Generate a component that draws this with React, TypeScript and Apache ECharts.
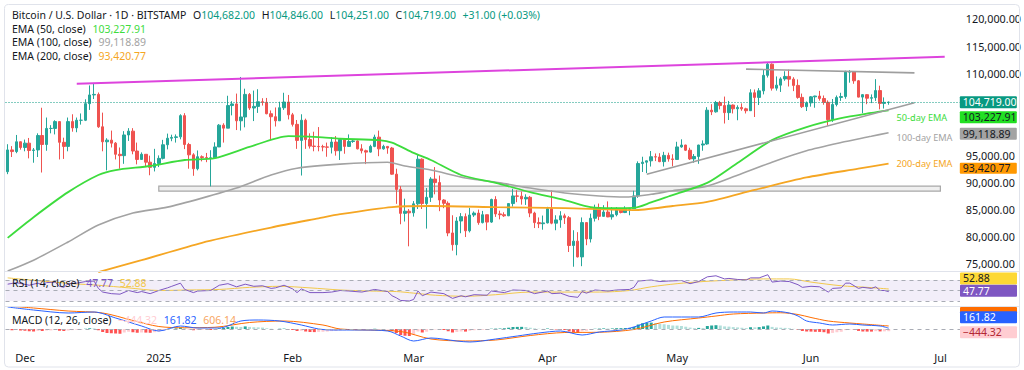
import React, { useEffect, useRef } from 'react';
import * as echarts from 'echarts';

const FONT = '"Noto Sans", "DejaVu Sans", sans-serif';
const TEXT = '#131722';
const FS = 10.5;

// ---------- categories (one per day) ----------
const firstDay = '2024-11-27';
const lastAxisDay = '2025-07-05';
function dayList(start: string, end: string): string[] {
  const out: string[] = [];
  const d = new Date(start + 'T00:00:00Z');
  const e = new Date(end + 'T00:00:00Z');
  while (d <= e) {
    out.push(d.toISOString().slice(0, 10));
    d.setUTCDate(d.getUTCDate() + 1);
  }
  return out;
}
const days = dayList(firstDay, lastAxisDay);

const tickDates = ['2024-12-01', '2025-01-01', '2025-02-01', '2025-03-01', '2025-04-01', '2025-05-01', '2025-06-01', '2025-07-01'];
const tickLabels = ['Dec', '2025', 'Feb', 'Mar', 'Apr', 'May', 'Jun', 'Jul'];
// 100,000 and 105,000 sit behind the value tags in the reference
const priceTicks = [75000, 80000, 85000, 90000, 95000, 110000, 115000, 120000];

// ---------- daily candles [open, high, low, close] ----------
const ohlcNov = [
  [91950, 97000, 91500, 95950], [95950, 96650, 94650, 95650], [95650, 98700, 95350, 97450], [97450, 97500, 96000, 96400],
];
const ohlcDec = [
  [96400, 97850, 95700, 97200], [97200, 98150, 94400, 95850], [95850, 96300, 93600, 95950], [95950, 99000, 94650, 98600],
  [98600, 103700, 91800, 96950], [96950, 101900, 95800, 99900], [99900, 100500, 99000, 99900], [99900, 101400, 98800, 101150],
  [101150, 101200, 94200, 97350], [97350, 98200, 94300, 96600], [96600, 101900, 95700, 101150], [101150, 102500, 99300, 100000],
  [100000, 101900, 99200, 101400], [101400, 102650, 100600, 101400], [101400, 105250, 101250, 104450], [104450, 107800, 103300, 106050],
  [106050, 108250, 105300, 106150], [106150, 106500, 100000, 100200], [100200, 102800, 95700, 97450], [97450, 98100, 92200, 97750],
  [97750, 99500, 96400, 97200], [97200, 97400, 94200, 95150], [95150, 96400, 92500, 94900], [94900, 99400, 93400, 98700],
  [98700, 99950, 97600, 99400], [99400, 99950, 95150, 95750], [95750, 97300, 93300, 94200], [94200, 95500, 94100, 95150],
  [95150, 95200, 93000, 93700], [93700, 94900, 91300, 92750], [92750, 96150, 92000, 93450],
];
const ohlcJan = [
  [93450, 94950, 92800, 94400], [94400, 97800, 94200, 96900], [96900, 98950, 96050, 98100], [98100, 98750, 97550, 98250],
  [98250, 98800, 97300, 98350], [98350, 102500, 97900, 102250], [102250, 102700, 96100, 96950], [96950, 97250, 92500, 95050],
  [95050, 95350, 91200, 92500], [92500, 95850, 92200, 94700], [94700, 94950, 93850, 94550], [94550, 95400, 93700, 94500],
  [94500, 95900, 89250, 94500], [94500, 97350, 94300, 96500], [96500, 100700, 96500, 100500], [100500, 100850, 97300, 99950],
  [99950, 105900, 99950, 104100], [104100, 104900, 102300, 104400], [104400, 106300, 99600, 101300], [101300, 109350, 99500, 102000],
  [102000, 107200, 100100, 106150], [106150, 106400, 103300, 103650], [103650, 106850, 101250, 103950], [103950, 107100, 102750, 104800],
  [104800, 105450, 104100, 104700], [104700, 105500, 102500, 102600], [102600, 103200, 97750, 102050], [102050, 103750, 100250, 101300],
  [101300, 104800, 101300, 103700], [103700, 106450, 103300, 104750], [104750, 106050, 101550, 102400],
];
const ohlcFeb = [
  [102400, 102750, 100250, 100650], [100650, 101450, 96150, 97700], [97700, 102500, 91250, 101400], [101400, 101700, 96150, 97850],
  [97850, 99000, 96200, 96650], [96650, 99300, 95700, 96600], [96600, 100150, 95700, 96550], [96550, 96900, 95700, 96500],
  [96500, 97300, 94700, 96450], [96450, 98300, 95300, 97400], [97400, 98500, 94900, 95800], [95800, 98100, 94100, 97850],
  [97850, 98000, 95250, 96600], [96600, 98800, 96500, 97500], [97500, 97950, 97250, 97600], [97600, 97700, 96050, 96150],
  [96150, 97000, 95300, 95800], [95800, 96000, 93350, 95550], [95550, 96900, 95450, 96600], [96600, 98750, 96450, 98300],
  [98300, 99500, 94800, 96150], [96150, 96900, 96000, 96600], [96600, 96650, 95250, 96300], [96300, 96500, 91400, 91500],
  [91500, 92500, 86050, 88700], [88700, 89300, 82300, 84300], [84300, 87000, 82800, 84700], [84700, 85100, 78250, 84400],
];
const ohlcMar = [
  [84400, 86550, 83700, 86050], [86050, 95000, 85100, 94250], [94250, 94400, 85100, 86100], [86100, 88950, 81500, 87250],
  [87250, 90950, 86400, 90600], [90600, 92800, 87800, 89950], [89950, 91250, 84700, 86750], [86750, 86900, 85250, 86150],
  [86150, 86500, 80100, 80700], [80700, 83950, 77450, 78550], [78550, 83600, 76600, 82900], [82900, 84350, 80650, 83700],
  [83700, 84300, 79950, 81100], [81100, 85300, 80800, 84000], [84000, 84650, 83650, 84350], [84350, 85000, 82200, 82600],
  [82600, 84750, 82450, 84050], [84050, 84050, 81200, 82700], [82700, 87000, 82550, 86850], [86850, 87450, 83650, 84200],
  [84200, 84800, 83200, 84050], [84050, 84500, 83650, 83850], [83850, 86100, 83800, 86100], [86100, 88800, 85550, 87500],
  [87500, 88550, 86350, 87450], [87450, 88300, 85900, 86950], [86950, 87800, 85850, 87250], [87250, 87500, 83600, 84350],
  [84350, 84600, 81600, 82600], [82600, 83550, 81600, 82400], [82400, 83900, 81300, 82550],
];
const ohlcApr = [
  [82550, 85500, 82450, 85150], [85150, 88500, 82300, 82500], [82500, 83950, 81200, 83100], [83100, 84700, 81650, 83850],
  [83850, 84250, 82350, 83500], [83500, 83800, 77200, 78400], [78400, 81200, 74500, 79200], [79200, 80850, 76200, 76300],
  [76300, 83550, 74600, 82600], [82600, 82700, 78450, 79600], [79600, 84250, 78950, 83400], [83400, 85900, 82800, 85300],
  [85300, 86100, 83050, 83750], [83750, 85800, 83700, 84550], [84550, 86500, 83600, 83650], [83650, 85450, 83150, 84050],
  [84050, 85450, 83750, 84900], [84900, 85100, 84300, 84450], [84450, 85600, 84350, 85050], [85050, 85300, 83950, 85150],
  [85150, 88450, 85150, 87500], [87500, 93850, 87150, 93450], [93450, 94700, 91900, 93700], [93700, 94000, 91700, 93950],
  [93950, 95750, 92900, 94700], [94700, 95300, 93900, 94650], [94650, 95350, 93700, 93800], [93800, 95600, 92900, 94950],
  [94950, 95450, 93800, 94300], [94300, 95150, 92950, 94200],
];
const ohlcMay = [
  [94200, 97450, 94150, 96500], [96500, 97900, 96350, 96850], [96850, 96900, 95750, 95900], [95900, 96350, 94100, 94300],
  [94300, 95200, 93600, 94750], [94750, 96900, 93400, 96850], [96850, 97700, 95800, 97050], [97050, 103800, 96900, 103250],
  [103250, 104350, 102350, 102950], [102950, 104950, 102800, 104650], [104650, 104950, 103400, 104100], [104100, 105750, 100800, 102800],
  [102800, 104950, 101450, 104200], [104200, 104300, 102650, 103500], [103500, 104150, 101400, 103750], [103750, 104500, 103150, 103500],
  [103500, 103700, 102650, 103150], [103150, 107100, 103100, 106450], [106450, 107050, 102000, 105600], [105600, 107300, 104200, 106800],
  [106800, 110750, 106150, 109650], [109650, 111950, 109250, 111700], [111700, 111850, 106850, 107300], [107300, 109450, 106850, 107850],
  [107850, 109300, 106600, 109000], [109000, 110400, 108650, 109450], [109450, 110700, 107600, 108950], [108950, 109300, 106750, 107800],
  [107800, 108900, 105350, 105600], [105600, 106300, 103650, 103900], [103900, 104850, 103100, 104600],
];
const ohlcJun = [
  [104600, 105850, 103900, 105700], [105700, 105900, 103700, 105850], [105850, 106800, 105000, 105400], [105400, 105950, 104250, 104700],
  [104700, 105050, 100400, 101500], [101500, 105300, 101100, 104300], [104300, 105950, 103950, 105600], [105600, 106450, 104950, 105750],
  [105750, 110500, 105350, 110250], [110250, 110600, 108300, 110270], [110270, 110400, 108100, 108650], [108650, 108800, 105600, 105650],
  [105650, 106200, 102700, 106100], [106100, 106200, 104350, 105450], [105450, 106150, 104550, 105550], [105550, 108950, 104950, 106850],
  [106850, 107750, 103400, 104500], [104500, 105600, 103550, 104688], [104682, 104846, 104251, 104719],
];
const ohlc = [...ohlcNov, ...ohlcDec, ...ohlcJan, ...ohlcFeb, ...ohlcMar, ...ohlcApr, ...ohlcMay, ...ohlcJun];

// ---------- moving averages (read at sample dates) ----------
const ema50Points: [string, number][] = [
  ['2024-11-27', 79800], ['2024-12-03', 83600], ['2024-12-11', 88200], ['2024-12-18', 91350], ['2024-12-22', 92250],
  ['2024-12-30', 93000], ['2025-01-07', 94100], ['2025-01-14', 94450], ['2025-01-22', 96500], ['2025-01-31', 98500],
  ['2025-02-07', 98300], ['2025-02-12', 98000], ['2025-02-21', 97750], ['2025-02-24', 97300], ['2025-03-01', 95400],
  ['2025-03-05', 94100], ['2025-03-12', 91350], ['2025-03-20', 89900], ['2025-03-28', 88200], ['2025-04-05', 86750],
  ['2025-04-11', 85450], ['2025-04-16', 85250], ['2025-04-21', 85300], ['2025-04-25', 86300], ['2025-04-29', 87400],
  ['2025-05-08', 89900], ['2025-05-15', 93550], ['2025-05-23', 97750], ['2025-05-31', 100150], ['2025-06-08', 101800],
  ['2025-06-15', 102750], ['2025-06-19', 103227.91],
];
const ema100Points: [string, number][] = [
  ['2024-11-27', 73700], ['2024-12-03', 75700], ['2024-12-11', 79050], ['2024-12-18', 82150], ['2024-12-26', 84350],
  ['2025-01-03', 85450], ['2025-01-11', 87100], ['2025-01-19', 88950], ['2025-01-27', 91350], ['2025-02-02', 92600],
  ['2025-02-12', 93350], ['2025-02-23', 93700], ['2025-02-27', 93000], ['2025-03-05', 92250], ['2025-03-13', 90800],
  ['2025-03-21', 89900], ['2025-03-28', 88950], ['2025-04-05', 88050], ['2025-04-13', 87500], ['2025-04-19', 87300],
  ['2025-04-25', 87800], ['2025-04-30', 88450], ['2025-05-08', 89300], ['2025-05-15', 91300], ['2025-05-23', 93700],
  ['2025-05-31', 95800], ['2025-06-08', 97300], ['2025-06-15', 98450], ['2025-06-19', 99118.89],
];
const ema200Points: [string, number][] = [
  ['2024-12-18', 73500], ['2024-12-28', 75700], ['2025-01-11', 78900], ['2025-01-27', 81700], ['2025-02-07', 83400],
  ['2025-02-12', 84150], ['2025-02-24', 85450], ['2025-03-05', 85650], ['2025-03-20', 85450], ['2025-04-05', 85250],
  ['2025-04-21', 84900], ['2025-04-30', 85650], ['2025-05-08', 86400], ['2025-05-19', 88600], ['2025-05-31', 90900],
  ['2025-06-12', 92500], ['2025-06-19', 93420.77],
];

// ---------- drawn lines / zone ----------
const resistanceLine: [string, number][] = [['2024-12-13', 108100], ['2025-07-02', 113050]];
const rangeTopLine: [string, number][] = [['2025-05-17', 110800], ['2025-06-25', 110100]];
const risingSupportLine: [string, number][] = [['2025-04-24', 91500], ['2025-06-25', 104600]];
const supportZone = { from: '2025-01-01', to: '2025-07-01', top: 89300, bottom: 88400 };

// ---------- RSI ----------
const rsiPoints: [string, number][] = [
  ['2024-11-27', 62], ['2024-11-29', 65], ['2024-12-02', 60], ['2024-12-04', 64], ['2024-12-05', 61], ['2024-12-06', 65],
  ['2024-12-08', 66], ['2024-12-09', 58], ['2024-12-10', 56], ['2024-12-11', 63], ['2024-12-13', 64], ['2024-12-15', 67],
  ['2024-12-17', 68], ['2024-12-18', 54], ['2024-12-19', 47], ['2024-12-21', 44], ['2024-12-23', 43], ['2024-12-25', 50],
  ['2024-12-27', 46], ['2024-12-28', 48], ['2024-12-30', 44], ['2025-01-01', 50], ['2025-01-03', 55], ['2025-01-04', 58],
  ['2025-01-06', 64], ['2025-01-07', 52], ['2025-01-09', 46], ['2025-01-10', 49], ['2025-01-13', 50], ['2025-01-15', 60],
  ['2025-01-17', 63], ['2025-01-19', 57], ['2025-01-21', 62], ['2025-01-23', 58], ['2025-01-25', 59], ['2025-01-27', 54],
  ['2025-01-28', 55], ['2025-01-30', 60], ['2025-02-01', 53], ['2025-02-02', 46], ['2025-02-03', 53], ['2025-02-05', 46],
  ['2025-02-08', 46], ['2025-02-10', 47], ['2025-02-12', 50], ['2025-02-14', 49], ['2025-02-17', 47], ['2025-02-20', 52],
  ['2025-02-23', 48], ['2025-02-24', 40], ['2025-02-25', 36], ['2025-02-26', 31], ['2025-02-28', 30], ['2025-03-01', 33],
  ['2025-03-02', 49], ['2025-03-03', 40], ['2025-03-05', 47], ['2025-03-08', 44], ['2025-03-10', 35], ['2025-03-12', 40],
  ['2025-03-13', 38], ['2025-03-15', 42], ['2025-03-18', 41], ['2025-03-19', 49], ['2025-03-22', 46], ['2025-03-24', 51],
  ['2025-03-27', 50], ['2025-03-29', 44], ['2025-04-01', 49], ['2025-04-02', 44], ['2025-04-04', 45], ['2025-04-06', 39],
  ['2025-04-08', 37], ['2025-04-09', 48], ['2025-04-10', 45], ['2025-04-12', 51], ['2025-04-15', 49], ['2025-04-17', 51],
  ['2025-04-20', 52], ['2025-04-21', 56], ['2025-04-22', 68], ['2025-04-25', 70], ['2025-04-27', 67], ['2025-04-29', 68],
  ['2025-05-02', 69], ['2025-05-04', 63], ['2025-05-06', 67], ['2025-05-08', 76], ['2025-05-10', 78], ['2025-05-12', 72],
  ['2025-05-13', 73], ['2025-05-15', 71], ['2025-05-17', 70], ['2025-05-18', 74], ['2025-05-20', 74], ['2025-05-22', 80],
  ['2025-05-23', 66], ['2025-05-25', 68], ['2025-05-27', 67], ['2025-05-29', 61], ['2025-05-30', 56], ['2025-06-01', 58],
  ['2025-06-03', 57], ['2025-06-05', 47], ['2025-06-06', 54], ['2025-06-08', 55], ['2025-06-09', 64], ['2025-06-10', 64],
  ['2025-06-12', 54], ['2025-06-13', 56], ['2025-06-15', 54], ['2025-06-16', 57], ['2025-06-17', 50], ['2025-06-18', 50],
  ['2025-06-19', 47.77],
];
const rsiMaPoints: [string, number][] = [
  ['2024-11-27', 74], ['2024-12-05', 68], ['2024-12-12', 63], ['2024-12-18', 60], ['2024-12-25', 55], ['2025-01-01', 50],
  ['2025-01-08', 51], ['2025-01-15', 52], ['2025-01-22', 56], ['2025-01-29', 58], ['2025-02-05', 55], ['2025-02-12', 51],
  ['2025-02-19', 49], ['2025-02-25', 48], ['2025-03-01', 45], ['2025-03-06', 41], ['2025-03-13', 39], ['2025-03-20', 42],
  ['2025-03-28', 47], ['2025-04-05', 47], ['2025-04-13', 47], ['2025-04-20', 50], ['2025-04-25', 57], ['2025-05-01', 63],
  ['2025-05-07', 67], ['2025-05-14', 70], ['2025-05-21', 72], ['2025-05-27', 72], ['2025-06-01', 66], ['2025-06-08', 59],
  ['2025-06-14', 56], ['2025-06-19', 52.88],
];

// ---------- MACD ----------
const macdPoints: [string, number][] = [
  ['2024-11-27', 4400], ['2024-12-03', 3800], ['2024-12-11', 3200], ['2024-12-17', 3400], ['2024-12-22', 2200],
  ['2024-12-28', 600], ['2025-01-01', -400], ['2025-01-06', 600], ['2025-01-10', 200], ['2025-01-15', 200],
  ['2025-01-20', 1600], ['2025-01-24', 1800], ['2025-01-29', 1600], ['2025-02-03', 800], ['2025-02-07', 0],
  ['2025-02-10', -200], ['2025-02-17', -200], ['2025-02-23', -400], ['2025-02-26', -1400], ['2025-03-01', -2400],
  ['2025-03-05', -1800], ['2025-03-11', -2400], ['2025-03-14', -2600], ['2025-03-20', -2000], ['2025-03-25', -1400],
  ['2025-03-30', -800], ['2025-04-04', -400], ['2025-04-09', -1200], ['2025-04-13', -600], ['2025-04-18', -200],
  ['2025-04-21', 400], ['2025-04-25', 1600], ['2025-04-28', 2400], ['2025-05-06', 2400], ['2025-05-10', 3200],
  ['2025-05-14', 3400], ['2025-05-18', 3400], ['2025-05-21', 3200], ['2025-05-23', 3600], ['2025-05-27', 3200],
  ['2025-05-29', 2600], ['2025-05-31', 1600], ['2025-06-03', 1200], ['2025-06-06', 800], ['2025-06-10', 1000],
  ['2025-06-13', 800], ['2025-06-17', 600], ['2025-06-19', 161.82],
];
const signalPoints: [string, number][] = [
  ['2024-11-27', 4600], ['2024-12-03', 4200], ['2024-12-11', 3600], ['2024-12-19', 3200], ['2024-12-26', 1700],
  ['2025-01-01', 500], ['2025-01-07', 250], ['2025-01-14', 350], ['2025-01-22', 1300], ['2025-01-30', 1600],
  ['2025-02-08', 800], ['2025-02-12', 0], ['2025-02-26', -500], ['2025-03-05', -2000], ['2025-03-13', -2400],
  ['2025-03-20', -2200], ['2025-03-28', -1300], ['2025-04-05', -700], ['2025-04-13', -650], ['2025-04-21', -100],
  ['2025-04-28', 1400], ['2025-05-06', 2200], ['2025-05-10', 2600], ['2025-05-14', 3000], ['2025-05-21', 3200],
  ['2025-05-25', 3250], ['2025-05-29', 2900], ['2025-06-01', 2300], ['2025-06-05', 1600], ['2025-06-10', 1200],
  ['2025-06-13', 1000], ['2025-06-19', 606.14],
];
// daily histogram, from 2024-11-27
const histNov = [-150, -250, -200, -300];
const histDec = [-350, -450, -500, -380, -400, -300, -280, -200, -350, -420, -300, -220, -150, -100, 50, 150, 120, -250, -600, -800,
  -850, -900, -950, -700, -550, -650, -750, -700, -720, -760, -640];
const histJan = [-500, -300, -100, 50, 120, 300, 150, -50, -250, -200, -180, -170, -200, -80, 150, 200, 400, 500, 450, 420,
  520, 420, 350, 330, 280, 150, 50, 0, 60, 80, -50];
const histFeb = [-200, -400, -350, -500, -600, -620, -580, -560, -520, -420, -400, -280, -250, -150, -80, -60, -80, -120, -60, 50,
  -20, 0, -30, -400, -800, -1200, -1350, -1400];
const histMar = [-1100, -500, -700, -550, -250, -100, -150, -200, -450, -700, -600, -500, -520, -350, -250, -220, -150, -160, 60, 80,
  100, 150, 260, 380, 420, 430, 400, 250, 120, 50, 20];
const histApr = [100, -20, -100, -150, -200, -500, -620, -750, -450, -380, -200, 50, 80, 120, 90, 110, 160, 170, 200, 220,
  420, 900, 1150, 1250, 1280, 1180, 1000, 950, 820, 700];
const histMay = [680, 600, 460, 280, 180, 220, 200, 600, 700, 760, 700, 520, 480, 380, 320, 250, 180, 350, 330, 380,
  520, 700, 420, 300, 250, 220, 150, 30, -150, -400, -500];
const histJun = [-520, -560, -580, -640, -900, -780, -650, -560, -220, -80, -120, -380, -500, -520, -520, -430, -480, -470, -444.32];
const macdHist = [...histNov, ...histDec, ...histJan, ...histFeb, ...histMar, ...histApr, ...histMay, ...histJun];

// ---------- helpers ----------
const fmt = (v: number) => v.toLocaleString('en-US', { minimumFractionDigits: 2, maximumFractionDigits: 2 }).replace('-', '\u2212');
const last = <T,>(a: T[]) => a[a.length - 1];

const lastBar = last(ohlc);
const prevClose = ohlc[ohlc.length - 2][3];
const lastDate = days[ohlc.length - 1];
const chg = lastBar[3] - prevClose;
const chgPct = (chg / prevClose) * 100;

const C = {
  up: '#26a69a', down: '#ef5350', teal: '#089981',
  ema50: '#3ddc3d', ema100: '#a3a3a3', ema200: '#f5a623',
  magenta: '#dd44dd', trend: '#9e9e9e',
  rsi: '#7e57c2', rsiMa: '#f2c84b', macd: '#2962ff', signal: '#ff6d00',
};

type TagStyle = { bg: string; fg: string; dy: number; h?: number; hideText?: boolean };
function tagSeries(axis: number, values: number[], styles: TagStyle[]) {
  return {
    type: 'custom', xAxisIndex: axis, yAxisIndex: axis, silent: true, clip: false, z: 30,
    data: values.map((v) => [lastDate, v]),
    encode: { x: 0, y: 1 },
    renderItem: (params: any, api: any) => {
      const st = styles[params.dataIndex];
      const pt = api.coord([api.value(0), api.value(1)]);
      const cs = params.coordSys;
      const x0 = cs.x + cs.width;
      const yc = pt[1] + st.dy;
      const h = st.h ?? 12;
      const children: any[] = [
        { type: 'rect', shape: { x: x0, y: yc - h / 2, width: 57, height: h, r: 1 }, style: { fill: st.bg } },
      ];
      if (!st.hideText) {
        children.push({
          type: 'text', x: x0 + 3, y: yc,
          style: { text: fmt(api.value(1)), fill: st.fg, font: `${FS}px ${FONT}`, verticalAlign: 'middle', align: 'left' },
        });
      }
      return { type: 'group', children };
    },
  };
}

function lineSeries(data: [string, number][], color: string, width: number, extra: any = {}) {
  return {
    type: 'line', xAxisIndex: 0, yAxisIndex: 0, data, showSymbol: false, symbol: 'none', silent: true,
    lineStyle: { color, width }, ...extra,
  };
}

export default function App() {
  const ref = useRef<HTMLDivElement>(null);
  useEffect(() => {
    if (!ref.current) return;
    const chart = echarts.init(ref.current, undefined, { renderer: 'svg' });

    const candleData = ohlc.map(([o, h, l, c]) => [o, c, l, h]);
    const histData = macdHist.map((v, i) => {
      const p = i > 0 ? macdHist[i - 1] : v;
      const color = v >= 0 ? (v >= p ? '#26a69a' : '#b2dfdb') : (v <= p ? '#ff5252' : '#ffcdd2');
      return { value: v, itemStyle: { color } };
    });

    const xBase = {
      type: 'category', data: days, boundaryGap: true,
      axisLine: { show: false }, axisTick: { show: false }, splitLine: { show: false },
    };
    const rs = (fill: string) => ({ fill, fontSize: FS, fontFamily: FONT });
    const rich = {
      t: rs(TEXT), v: rs(C.teal), g: rs(C.ema50), s: rs(C.ema100), o: rs(C.ema200),
      p: rs(C.rsi), y: rs(C.rsiMa), r: rs('#ffcdd2'), b: rs(C.macd), m: rs('#f7a55f'),
    };
    const sgn = (v: number) => (v >= 0 ? '+' : '\u2212') + fmt(Math.abs(v));
    const header =
      `{t|Bitcoin / U.S. Dollar · 1D · BITSTAMP}  {t|O}{v|${fmt(lastBar[0])}}  {t|H}{v|${fmt(lastBar[1])}}  ` +
      `{t|L}{v|${fmt(lastBar[2])}}  {t|C}{v|${fmt(lastBar[3])}}  {v|${sgn(chg)} (${sgn(chgPct)}%)}`;

    const textEl = (x: number, y: number, text: string) => ({
      type: 'text', x, y, z: 100, silent: true,
      style: { text, rich, verticalAlign: 'middle', align: 'left' },
    });
    const EL = 9.2; // end-label font size

    const option: any = {
      animation: false,
      backgroundColor: '#ffffff',
      textStyle: { fontFamily: FONT },
      grid: [
        { left: 5.5, right: 64, top: 5, height: 267 },
        { left: 5.5, right: 64, top: 272, height: 34 },
        { left: 5.5, right: 64, top: 307, height: 40 },
      ],
      xAxis: [
        { ...xBase, gridIndex: 0, axisLabel: { show: false } },
        { ...xBase, gridIndex: 1, axisLabel: { show: false } },
        {
          ...xBase, gridIndex: 2,
          axisLabel: {
            show: true, color: TEXT, fontSize: 11, fontFamily: FONT, margin: 5,
            interval: (_i: number, v: string) => tickDates.indexOf(v) >= 0,
            formatter: (v: string) => tickLabels[tickDates.indexOf(v)] ?? '',
          },
        },
      ],
      yAxis: [
        {
          type: 'value', gridIndex: 0, position: 'right', min: 73530, max: 122570, scale: true,
          splitLine: { show: false }, axisLine: { show: false }, axisTick: { show: false },
          axisLabel: { customValues: priceTicks, formatter: (v: number) => fmt(v), color: TEXT, fontSize: 10.8, fontFamily: FONT, margin: 6 },
        },
        { type: 'value', gridIndex: 1, position: 'right', min: 20.5, max: 85.2, show: false, splitLine: { show: false } },
        { type: 'value', gridIndex: 2, position: 'right', min: -3600, max: 4400, show: false, splitLine: { show: false } },
      ],
      series: [
        {
          type: 'candlestick', xAxisIndex: 0, yAxisIndex: 0, data: candleData, barWidth: 3, silent: true,
          itemStyle: { color: C.up, color0: C.down, borderColor: C.up, borderColor0: C.down, borderWidth: 1 },
          markLine: {
            silent: true, symbol: ['none', 'none'], label: { show: false },
            lineStyle: { color: C.teal, type: [1, 2], width: 1 },
            data: [{ yAxis: lastBar[3] }],
          },
          markArea: {
            silent: true,
            itemStyle: { color: 'rgba(190,190,190,0.25)', borderColor: '#a8a8a8', borderWidth: 1.2 },
            data: [[{ xAxis: supportZone.from, yAxis: supportZone.top }, { xAxis: supportZone.to, yAxis: supportZone.bottom }]],
          },
        },
        lineSeries(ema200Points, C.ema200, 1.8, {
          smooth: 0.25,
          endLabel: { show: true, formatter: '200-day EMA', color: C.ema200, fontSize: EL, fontFamily: FONT, distance: 8 },
        }),
        lineSeries(ema100Points, C.ema100, 1.6, {
          smooth: 0.25,
          endLabel: { show: true, formatter: '{a|100-day EMA}', distance: 8, rich: { a: { color: C.ema100, fontSize: EL, fontFamily: FONT, padding: [10, 0, 0, 0] } } },
        }),
        lineSeries(ema50Points, C.ema50, 1.8, {
          smooth: 0.25,
          endLabel: { show: true, formatter: '{a|50-day EMA}', distance: 8, rich: { a: { color: C.ema50, fontSize: EL, fontFamily: FONT, padding: [14, 0, 0, 0] } } },
        }),
        lineSeries(resistanceLine, C.magenta, 2),
        lineSeries(rangeTopLine, C.trend, 1.6),
        lineSeries(risingSupportLine, C.trend, 1.6),
        {
          type: 'line', xAxisIndex: 1, yAxisIndex: 1, data: rsiMaPoints, showSymbol: false, silent: true, smooth: 0.3,
          lineStyle: { color: C.rsiMa, width: 1 },
        },
        {
          type: 'line', xAxisIndex: 1, yAxisIndex: 1, data: rsiPoints, showSymbol: false, silent: true,
          lineStyle: { color: C.rsi, width: 1 },
          markLine: {
            silent: true, symbol: ['none', 'none'], label: { show: false },
            lineStyle: { color: '#a9acb5', type: [4, 4], width: 1 },
            data: [{ yAxis: 70 }, { yAxis: 50 }, { yAxis: 30 }],
          },
          markArea: { silent: true, itemStyle: { color: 'rgba(126,87,194,0.1)' }, data: [[{ yAxis: 30 }, { yAxis: 70 }]] },
        },
        {
          type: 'bar', xAxisIndex: 2, yAxisIndex: 2, data: histData, barWidth: 3, silent: true,
          markLine: {
            silent: true, symbol: ['none', 'none'], label: { show: false },
            lineStyle: { color: '#a9acb5', type: [4, 4], width: 1 },
            data: [{ yAxis: 0 }],
          },
        },
        { type: 'line', xAxisIndex: 2, yAxisIndex: 2, data: signalPoints, showSymbol: false, silent: true, smooth: 0.3, lineStyle: { color: C.signal, width: 1 } },
        { type: 'line', xAxisIndex: 2, yAxisIndex: 2, data: macdPoints, showSymbol: false, silent: true, smooth: 0.3, lineStyle: { color: C.macd, width: 1 } },
        tagSeries(0, [lastBar[3], last(ema50Points)[1], last(ema100Points)[1], last(ema200Points)[1]], [
          { bg: C.teal, fg: '#ffffff', dy: 0 },
          { bg: '#22e022', fg: TEXT, dy: 7 },
          { bg: '#a3a3a3', fg: TEXT, dy: 1 },
          { bg: '#ff9800', fg: TEXT, dy: 4.5, h: 11 },
        ]),
        tagSeries(1, [last(rsiMaPoints)[1], last(rsiPoints)[1]], [
          { bg: '#fdd835', fg: TEXT, dy: -10.5 },
          { bg: C.rsi, fg: '#ffffff', dy: -1 },
        ]),
        tagSeries(2, [last(signalPoints)[1], last(macdPoints)[1], last(macdHist)], [
          { bg: C.signal, fg: '#ffffff', dy: -13, hideText: true },
          { bg: C.macd, fg: '#ffffff', dy: -11 },
          { bg: '#ffcdd2', fg: '#b22833', dy: 1 },
        ]),
      ],
      graphic: [
        { type: 'rect', z: 100, silent: true, shape: { x: 4.5, y: 4.5, width: 1015, height: 362.5, r: 4 }, style: { fill: 'none', stroke: '#e0e3eb', lineWidth: 1 } },
        { type: 'line', z: 100, silent: true, shape: { x1: 5, y1: 271.5, x2: 1019.5, y2: 271.5 }, style: { stroke: '#e0e3eb', lineWidth: 1 } },
        { type: 'line', z: 100, silent: true, shape: { x1: 5, y1: 306.5, x2: 1019.5, y2: 306.5 }, style: { stroke: '#e0e3eb', lineWidth: 1 } },
        textEl(12, 15, header),
        textEl(12, 28.5, `{t|EMA (50, close)}  {g|${fmt(last(ema50Points)[1])}}`),
        textEl(12, 42, `{t|EMA (100, close)}  {s|${fmt(last(ema100Points)[1])}}`),
        textEl(12, 55.5, `{t|EMA (200, close)}  {o|${fmt(last(ema200Points)[1])}}`),
        textEl(12, 283, `{t|RSI (14, close)}  {p|${fmt(last(rsiPoints)[1])}}  {y|${fmt(last(rsiMaPoints)[1])}}`),
        textEl(12, 320, `{t|MACD (12, 26, close)}  {r|${fmt(last(macdHist))}}  {b|${fmt(last(macdPoints)[1])}}  {m|${fmt(last(signalPoints)[1])}}`),
      ],
    };
    chart.setOption(option);
    return () => chart.dispose();
  }, []);
  return (
    <div
      ref={ref}
      style={{ position: 'fixed', left: 0, top: 0, width: 1024, height: 370, background: '#fff' }}
    />
  );
}
